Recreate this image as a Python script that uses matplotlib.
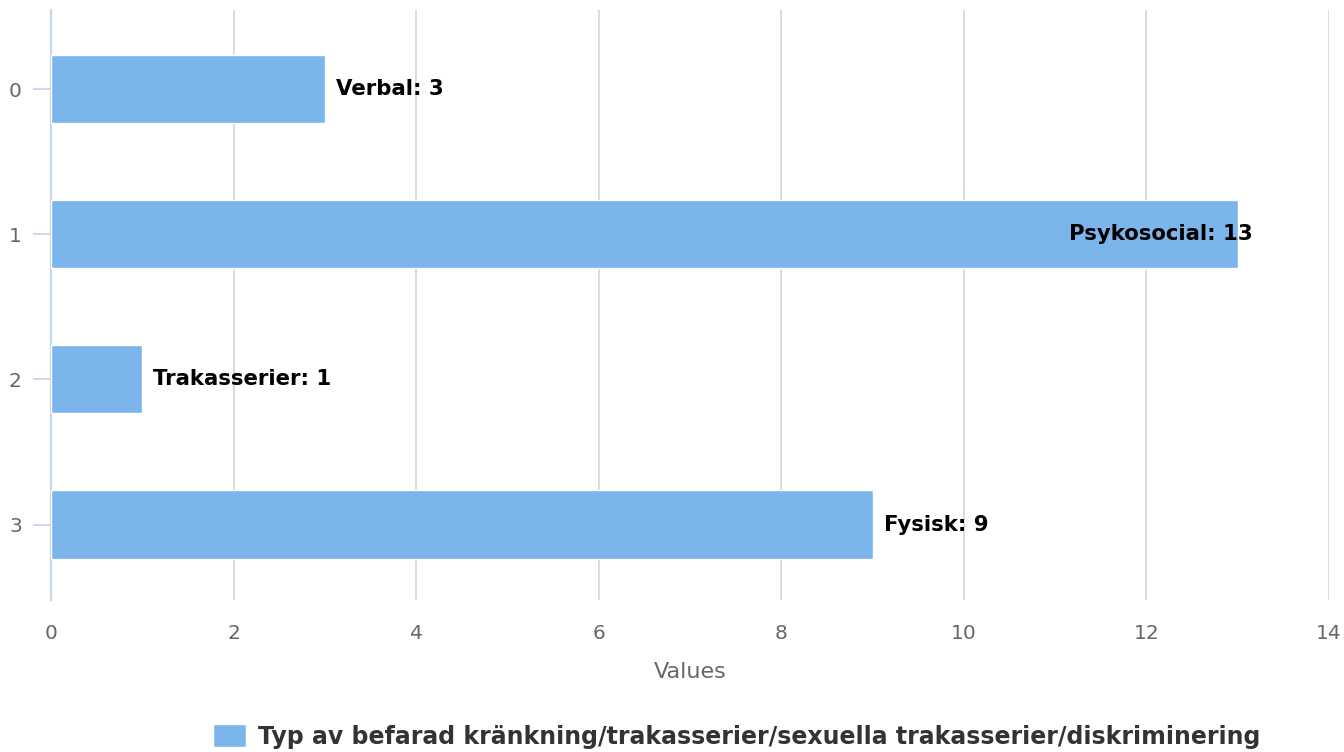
import matplotlib.pyplot as plt

# data
categories = ['0', '1', '2', '3']
names = ['Verbal', 'Psykosocial', 'Trakasserier', 'Fysisk']
values = [3, 13, 1, 9]
series_name = 'Typ av befarad kränkning/trakasserier/sexuella trakasserier/diskriminering'

barColor = '#7cb5ec'

fig = plt.figure(figsize=(13.44, 7.52), dpi=100)
ax = fig.add_axes([51/1344, 1 - 600/752, 1278/1344, 590/752])

ypos = list(range(len(categories)))
ax.barh(ypos, values, height=0.47, color=barColor, edgecolor='white', linewidth=1,
        zorder=3, label=series_name)

ax.set_xlim(0, 14)
ax.set_ylim(3.52, -0.545)
ax.set_xticks(range(0, 15, 2))
ax.set_yticks(ypos)
ax.set_yticklabels(categories)

ax.grid(axis='x', color='#d9d9d9', linewidth=1.3, zorder=0)
for s in ['top', 'right', 'bottom']:
    ax.spines[s].set_visible(False)
ax.spines['left'].set_color('#ccd6eb')
ax.spines['left'].set_linewidth(1.6)

ax.tick_params(axis='x', length=0, pad=17, labelsize=14.5, labelcolor='#666666')
ax.tick_params(axis='y', length=13, width=1.3, color='#ccd6eb', pad=8,
               labelsize=14.5, labelcolor='#666666')
ax.set_xlabel('Values', fontsize=16, color='#666666', labelpad=14)

# value labels, the longest one pushed back inside the plot
for y, name, v in zip(ypos, names, values):
    if v == max(values):
        ax.annotate(f'{name}: {v}', (v, y), xytext=(11, 0), textcoords='offset points',
                    ha='right', va='center', fontsize=15.3, fontweight='bold', zorder=5)
    else:
        ax.annotate(f'{name}: {v}', (v, y), xytext=(8, 0), textcoords='offset points',
                    ha='left', va='center', fontsize=15.3, fontweight='bold', zorder=5)

leg = fig.legend(loc='lower center', bbox_to_anchor=(0.548, -0.024), frameon=False,
                 handlelength=1.4, handleheight=1.1, handletextpad=0.5,
                 prop={'size': 17, 'weight': 'bold'})
for t in leg.get_texts():
    t.set_color('#333333')

fig.savefig('out.png', dpi=100)
